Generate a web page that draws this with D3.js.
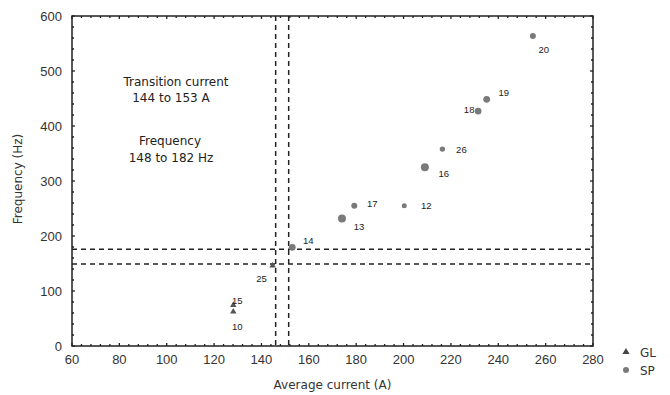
<!DOCTYPE html>
<html>
<head>
<meta charset="utf-8">
<script src="https://cdn.jsdelivr.net/npm/d3@7"></script>
<style>
  body { margin: 0; background: #fff; }
  svg text { font-family: "Liberation Sans", Arial, sans-serif; }
  svg text.wide { font-family: "DejaVu Sans", sans-serif; }
</style>
</head>
<body>
<svg id="chart" width="670" height="395"></svg>
<script>
// data
const runIds   = ["20", "19", "18", "26", "16", "17", "12", "13", "14", "25", "15", "10"];
const currents = [254.6, 235.1, 231.5, 216.4, 209, 179.2, 200.3, 174, 153, 144.7, 128.1, 128.1];
const freqs    = [563.6, 448.5, 427, 358, 325, 255, 255, 232, 179.5, 146, 74.5, 62.4];
const modes    = ["SP", "SP", "SP", "SP", "SP", "SP", "SP", "SP", "SP", "GL", "GL", "GL"];
const dotSizes = [3, 3.4, 3.3, 2.7, 4, 3, 2.5, 4, 3.4, 0, 0, 0];

// transition lines
const transCurrents = [146, 151.5];
const transFreqs    = [149, 176];

const xTicks = [60, 80, 100, 120, 140, 160, 180, 200, 220, 240, 260, 280];
const yTicks = [0, 100, 200, 300, 400, 500, 600];

// label offsets (px, label centre relative to point)
const labelOffsets = {
  "20": [11, 13], "19": [17, -7], "18": [-9, -2], "26": [19, 0], "16": [19, 6],
  "17": [18, -2], "12": [22, 0], "13": [17, 8], "14": [16, -7], "25": [-11, 13],
  "15": [4, -5], "10": [4, 15]
};

const svg = d3.select("#chart");
const margin = { left: 72, right: 77, top: 16, bottom: 49 };
const W = 670, H = 395;

const x = d3.scaleLinear().domain([60, 280]).range([margin.left, W - margin.right]);
const y = d3.scaleLinear().domain([0, 600]).range([H - margin.bottom, margin.top]);

const ink = "#222";

// minor ticks on all four sides, pointing inward
const g = svg.append("g");
d3.range(60, 281, 4).forEach(v => {
  const len = v % 20 === 0 ? 3 : 2;
  g.append("line").attr("x1", x(v)).attr("x2", x(v)).attr("y1", y(0)).attr("y2", y(0) - len)
    .attr("stroke", ink).attr("stroke-width", 1.3);
  g.append("line").attr("x1", x(v)).attr("x2", x(v)).attr("y1", y(600)).attr("y2", y(600) + len)
    .attr("stroke", ink).attr("stroke-width", 1.3);
});
d3.range(0, 601, 20).forEach(v => {
  const len = v % 100 === 0 ? 3 : 2;
  g.append("line").attr("x1", x(60)).attr("x2", x(60) + len).attr("y1", y(v)).attr("y2", y(v))
    .attr("stroke", ink).attr("stroke-width", 1.3);
  g.append("line").attr("x1", x(280)).attr("x2", x(280) - len).attr("y1", y(v)).attr("y2", y(v))
    .attr("stroke", ink).attr("stroke-width", 1.3);
});

// frame
svg.append("rect")
  .attr("x", x(60)).attr("y", y(600))
  .attr("width", x(280) - x(60)).attr("height", y(0) - y(600))
  .attr("fill", "none").attr("stroke", ink).attr("stroke-width", 1.5);

// tick labels
svg.append("g").selectAll("text").data(xTicks).join("text")
  .attr("x", d => x(d)).attr("y", y(0) + 18)
  .attr("text-anchor", "middle").attr("font-size", 13).attr("fill", "#333")
  .text(d => d);
svg.append("g").selectAll("text").data(yTicks).join("text")
  .attr("x", x(60) - 10).attr("y", d => y(d) + 4.5)
  .attr("text-anchor", "end").attr("font-size", 13).attr("fill", "#333")
  .text(d => d);

// axis titles
svg.append("text").attr("class", "wide")
  .attr("x", (x(60) + x(280)) / 2).attr("y", 389)
  .attr("text-anchor", "middle").attr("font-size", 12).attr("fill", "#333")
  .text("Average current (A)");
svg.append("text").attr("class", "wide")
  .attr("transform", `translate(22,${(y(0) + y(600)) / 2 - 2}) rotate(-90)`)
  .attr("text-anchor", "middle").attr("font-size", 12).attr("fill", "#333")
  .text("Frequency (Hz)");

// dashed transition lines
svg.append("g").selectAll("line").data(transCurrents).join("line")
  .attr("x1", d => x(d)).attr("x2", d => x(d)).attr("y1", y(600)).attr("y2", y(0))
  .attr("stroke", ink).attr("stroke-width", 1.5).attr("stroke-dasharray", "5,4");
svg.append("g").selectAll("line").data(transFreqs).join("line")
  .attr("x1", x(60)).attr("x2", x(280)).attr("y1", d => y(d)).attr("y2", d => y(d))
  .attr("stroke", ink).attr("stroke-width", 1.5).attr("stroke-dasharray", "5,4");

// annotation text
const notes = [["Transition current", 176, 86], ["144 to 153 A", 171, 102], ["Frequency", 170, 145], ["148 to 182 Hz", 171, 162]];
svg.append("g").selectAll("text").data(notes).join("text").attr("class", "wide")
  .attr("x", d => d[1]).attr("y", d => d[2])
  .attr("text-anchor", "middle").attr("font-size", 12).attr("fill", "#222")
  .text(d => d[0]);

// points
const pts = runIds.map((id, i) => ({ id, cx: x(currents[i]), cy: y(freqs[i]), mode: modes[i], r: dotSizes[i] }));
const tri = d3.symbol().type(d3.symbolTriangle).size(18);

const pg = svg.append("g");
pg.selectAll("circle").data(pts.filter(p => p.mode === "SP")).join("circle")
  .attr("cx", d => d.cx).attr("cy", d => d.cy).attr("r", d => d.r)
  .attr("fill", "#7a7a7a");
pg.selectAll("path").data(pts.filter(p => p.mode === "GL")).join("path")
  .attr("d", tri).attr("transform", d => `translate(${d.cx},${d.cy})`)
  .attr("fill", "#555");

// run labels
svg.append("g").selectAll("text").data(pts).join("text")
  .attr("x", d => d.cx + labelOffsets[d.id][0])
  .attr("y", d => d.cy + labelOffsets[d.id][1] + 3.5)
  .attr("text-anchor", "middle").attr("font-size", 9.5).attr("fill", "#222")
  .text(d => d.id);

// legend
const legend = svg.append("g").attr("transform", "translate(626,352)");
legend.append("path").attr("d", d3.symbol().type(d3.symbolTriangle).size(22)).attr("fill", "#444");
legend.append("text").attr("class", "wide").attr("x", 14).attr("y", 4.5).attr("font-size", 12).attr("fill", "#333").text("GL");
legend.append("circle").attr("cx", 0).attr("cy", 18).attr("r", 3).attr("fill", "#7a7a7a");
legend.append("text").attr("class", "wide").attr("x", 14).attr("y", 22.5).attr("font-size", 12).attr("fill", "#333").text("SP");
</script>
</body>
</html>
